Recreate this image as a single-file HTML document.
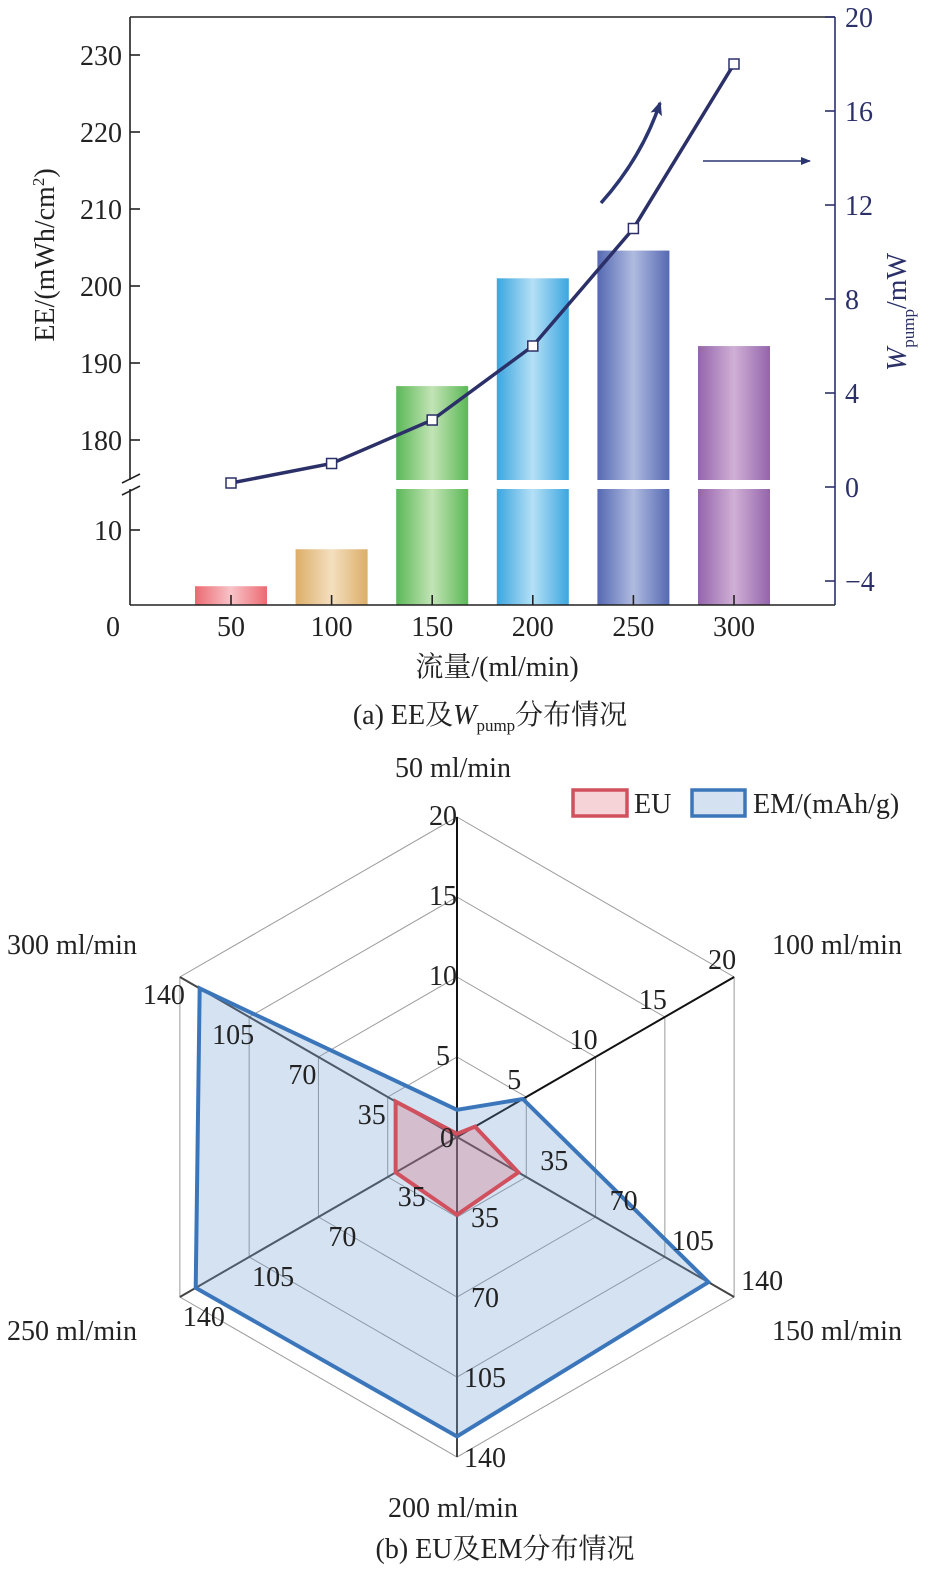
<!DOCTYPE html>
<html><head><meta charset="utf-8"><style>
html,body{margin:0;padding:0;background:#fff;}
svg{display:block;font-family:"Liberation Serif","Noto Serif CJK SC",serif;}
</style></head><body>
<svg id="chart" width="929" height="1575" viewBox="0 0 929 1575" xmlns="http://www.w3.org/2000/svg">
<defs>
<linearGradient id="g0" x1="0" x2="1"><stop offset="0" stop-color="#ec6a72"/><stop offset="0.5" stop-color="#f7c4c8"/><stop offset="1" stop-color="#ec6a72"/></linearGradient>
<linearGradient id="g1" x1="0" x2="1"><stop offset="0" stop-color="#dcae68"/><stop offset="0.5" stop-color="#f4dfbf"/><stop offset="1" stop-color="#dcae68"/></linearGradient>
<linearGradient id="g2" x1="0" x2="1"><stop offset="0" stop-color="#5bb857"/><stop offset="0.5" stop-color="#c3e4b6"/><stop offset="1" stop-color="#5bb857"/></linearGradient>
<linearGradient id="g3" x1="0" x2="1"><stop offset="0" stop-color="#3ca6df"/><stop offset="0.5" stop-color="#b5e0f6"/><stop offset="1" stop-color="#3ca6df"/></linearGradient>
<linearGradient id="g4" x1="0" x2="1"><stop offset="0" stop-color="#5569b2"/><stop offset="0.5" stop-color="#b0bbe0"/><stop offset="1" stop-color="#5569b2"/></linearGradient>
<linearGradient id="g5" x1="0" x2="1"><stop offset="0" stop-color="#9464ab"/><stop offset="0.5" stop-color="#d0b0d6"/><stop offset="1" stop-color="#9464ab"/></linearGradient>
<marker id="ah" markerWidth="10" markerHeight="8" refX="9" refY="4" orient="auto" markerUnits="userSpaceOnUse"><path d="M0,0 L10,4 L0,8 Z" fill="#2b3570"/></marker>
<marker id="ah2" markerWidth="14" markerHeight="12" refX="12" refY="6" orient="auto" markerUnits="userSpaceOnUse"><path d="M0,0 L14,6 L0,12 L3,6 Z" fill="#2b3570"/></marker>
</defs>
<g id="top"></g>
<g id="radar"></g>
</svg>
<script>
// ---- Chart (a) data ----
const flows = [50, 100, 150, 200, 250, 300];
const eeValues = [2.7, 7.5, 187, 201, 204.6, 192.2];
const wpumpValues = [0.17, 1.0, 2.85, 6.0, 11.0, 18.0];
const eeUpperTicks = [180, 190, 200, 210, 220, 230];
const eeLowerTicks = [10];
const wTicks = [-4, 0, 4, 8, 12, 16, 20];
// ---- Chart (b) data ----
const radarCats = ["50 ml/min", "100 ml/min", "150 ml/min", "200 ml/min", "250 ml/min", "300 ml/min"];
const radarMax = [20, 20, 140, 140, 140, 140];
const euValues = [0.2, 1.3, 31, 34, 31, 31];
const emValues = [1.7, 4.75, 127, 131, 132, 130];
const radarTickLabels = [["5","10","15","20"],["5","10","15","20"],["35","70","105","140"],["35","70","105","140"],["35","70","105","140"],["35","70","105","140"]];

const NS = "http://www.w3.org/2000/svg";
const FS = 28;
function mk(tag, attrs, parent, text){const e=document.createElementNS(NS,tag);for(const k in attrs)e.setAttribute(k,attrs[k]);if(text!==undefined)e.textContent=text;parent.appendChild(e);return e;}

// ---------- Top chart ----------
const topG = document.getElementById('top');
const L=130,R=835,T=17,B=605;
const xS = v => 231 + (v-50)*(734-231)/250;
const yUp = v => 440 - (v-180)*7.7;
const yLow = v => 607 - v*7.7;
const yR = v => 487 - v*23.5;
const BREAK_TOP=480, BREAK_BOT=489;
const navy="#2b3068";

flows.forEach((f,i)=>{
  const v=eeValues[i], cx=xS(f), w=72;
  if(v<100){
    const r=mk('rect',{x:cx-w/2,y:yLow(v),width:w,height:B-yLow(v),fill:`url(#g${i})`},topG);
    
    
  } else {
    const r1=mk('rect',{x:cx-w/2,y:yUp(v),width:w,height:BREAK_TOP-yUp(v),fill:`url(#g${i})`},topG);
    
    
    const r2=mk('rect',{x:cx-w/2,y:BREAK_BOT,width:w,height:B-BREAK_BOT,fill:`url(#g${i})`},topG);
    
    
  }
});
const ax=mk('g',{stroke:'#222','stroke-width':1.6,fill:'none'},topG);


mk('line',{x1:L,y1:T,x2:L,y2:BREAK_TOP},ax);
mk('line',{x1:L,y1:BREAK_BOT,x2:L,y2:B},ax);
mk('line',{x1:L,y1:T,x2:R,y2:T},ax);
mk('line',{x1:L,y1:B,x2:R,y2:B},ax);
mk('line',{x1:122,y1:BREAK_TOP+3,x2:140,y2:BREAK_TOP-6},ax);
mk('line',{x1:122,y1:BREAK_BOT+6,x2:140,y2:BREAK_BOT-3},ax);
eeUpperTicks.forEach(t=>{mk('line',{x1:L,y1:yUp(t),x2:L+10,y2:yUp(t)},ax);
  const tl=mk('text',{x:L-8,y:yUp(t)+10,'text-anchor':'end','font-size':FS,fill:'#222',stroke:'none'},topG,String(t));
  });
eeLowerTicks.forEach(t=>{mk('line',{x1:L,y1:yLow(t),x2:L+10,y2:yLow(t)},ax);
  const tl=mk('text',{x:L-8,y:yLow(t)+10,'text-anchor':'end','font-size':FS,fill:'#222',stroke:'none'},topG,String(t));
  });
mk('text',{x:113,y:636,'text-anchor':'middle','font-size':FS,fill:'#222'},topG,'0');
flows.forEach(f=>{mk('line',{x1:xS(f),y1:B,x2:xS(f),y2:B-10,stroke:'#222','stroke-width':1.6},topG);
  const tl=mk('text',{x:xS(f),y:636,'text-anchor':'middle','font-size':FS,fill:'#222'},topG,String(f));
  });
const rax=mk('g',{stroke:navy,'stroke-width':1.6},topG);


mk('line',{x1:R,y1:T,x2:R,y2:B},rax);
wTicks.forEach(t=>{mk('line',{x1:R,y1:yR(t),x2:R-10,y2:yR(t)},rax);
  const tl=mk('text',{x:R+10,y:yR(t)+10,'font-size':FS,fill:navy,stroke:'none'},topG,t<0?'\u2212'+(-t):String(t));
  });
let yt=mk('text',{transform:'translate(54,255) rotate(-90)','text-anchor':'middle','font-size':FS,fill:'#222'},topG);
yt.innerHTML='EE/(mWh/cm<tspan dy="-10" font-size="17">2</tspan><tspan dy="10">)</tspan>';

let yt2=mk('text',{transform:'translate(906,312) rotate(-90)','text-anchor':'middle','font-size':FS,fill:navy},topG);
yt2.innerHTML='<tspan font-style="italic">W</tspan><tspan font-size="17" dy="8">pump</tspan><tspan dy="-8">/mW</tspan>';

let xt=mk('text',{x:497,y:676,'text-anchor':'middle','font-size':FS,fill:'#222'},topG,'流量/(ml/min)');

let ct=mk('text',{x:490,y:724,'text-anchor':'middle','font-size':FS,fill:'#222'},topG);
ct.innerHTML='(a) EE及<tspan font-style="italic">W</tspan><tspan font-size="17" dy="7">pump</tspan><tspan dy="-7">分布情况</tspan>';

const pts=flows.map((f,i)=>xS(f)+','+yR(wpumpValues[i])).join(' ');
const pl=mk('polyline',{points:pts,fill:'none',stroke:navy,'stroke-width':3.5},topG);

flows.forEach((f,i)=>{const m=mk('rect',{x:xS(f)-5,y:yR(wpumpValues[i])-5,width:10,height:10,fill:'#fff',stroke:navy,'stroke-width':1.5},topG);
  });
let a1=mk('path',{d:'M601,203 Q642,157 660,103',fill:'none',stroke:'#2b3570','stroke-width':3.5,'marker-end':'url(#ah2)'},topG);

let a2=mk('line',{x1:703,y1:161,x2:810,y2:161,stroke:'#2b3570','stroke-width':1.5,'marker-end':'url(#ah)'},topG);


// ---------- Radar ----------
const rg=document.getElementById('radar');
const CX=457,CY=1137,RAD=320;
const angles=[90,30,-30,-90,-150,150].map(a=>a*Math.PI/180);
const rpt=(i,frac)=>[CX+Math.cos(angles[i])*RAD*frac, CY-Math.sin(angles[i])*RAD*frac];
[0.25,0.5,0.75,1].forEach(fr=>{
  const p=angles.map((a,i)=>rpt(i,fr).join(',')).join(' ');
  const h=mk('polygon',{points:p,fill:'none',stroke:'#9a9a9a','stroke-width':1},rg);
  
});
angles.forEach((a,i)=>{const e=rpt(i,1);const l=mk('line',{x1:CX,y1:CY,x2:e[0],y2:e[1],stroke:i<2?'#111':'#444','stroke-width':2},rg);
  });
function poly(vals,fill,stroke,name){
  const p=vals.map((v,i)=>rpt(i,v/radarMax[i]).join(',')).join(' ');
  const e=mk('polygon',{points:p,fill:fill,stroke:stroke,'stroke-width':4,'stroke-linejoin':'miter'},rg);
  
}
poly(emValues,'rgba(100,150,210,0.28)','#3b76bb','em-area');
poly(euValues,'rgba(210,80,95,0.25)','#d1505e','eu-area');
const tickOff=[[-14,8],[-12,-8],[28,-7],[28,10],[24,29],[-16,27]];
angles.forEach((a,i)=>{
  radarTickLabels[i].forEach((lab,k)=>{
    const p=rpt(i,(k+1)/4);
    const t=mk('text',{x:p[0]+tickOff[i][0],y:p[1]+tickOff[i][1],'text-anchor':'middle','font-size':FS,fill:'#222'},rg,lab);
    
  });
});
mk('text',{x:447,y:1147,'text-anchor':'middle','font-size':FS,fill:'#222'},rg,'0');
const catPos=[[453,777],[837,954],[837,1340],[453,1517],[72,1340],[72,954]];
radarCats.forEach((c,i)=>{const t=mk('text',{x:catPos[i][0],y:catPos[i][1],'text-anchor':'middle','font-size':FS,fill:'#222'},rg,c);
  });
let lg=mk('g',{},rg);
let l1=mk('rect',{x:573,y:790,width:54,height:26,fill:'#f6d3d7',stroke:'#d1505e','stroke-width':3.5},lg);

mk('text',{x:634,y:813,'font-size':FS,fill:'#222'},lg,'EU');
let l2=mk('rect',{x:692,y:790,width:53,height:26,fill:'#d3e1f1',stroke:'#3b76bb','stroke-width':3.5},lg);

mk('text',{x:753,y:813,'font-size':FS,fill:'#222'},lg,'EM/(mAh/g)');
let cb=mk('text',{x:505,y:1558,'text-anchor':'middle','font-size':FS,fill:'#222'},rg,'(b) EU及EM分布情况');

</script>
</body></html>
